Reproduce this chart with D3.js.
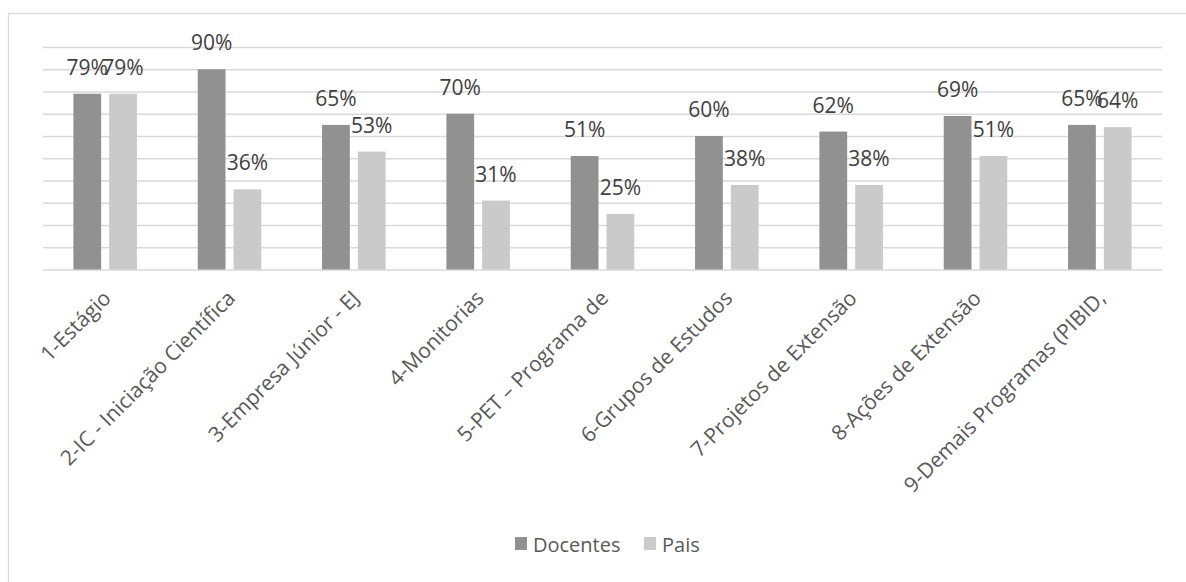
<!DOCTYPE html>
<html>
<head>
<meta charset="utf-8">
<script src="https://cdn.jsdelivr.net/npm/d3@7"></script>
<style>
  html, body { margin: 0; padding: 0; background: #ffffff; }
  svg { display: block; font-family: "Open Sans", "Noto Sans", sans-serif; }
</style>
</head>
<body>
<svg id="chart" width="1186" height="582"></svg>
<script>
const categories = [
  "1-Estágio",
  "2-IC - Iniciação Científica",
  "3-Empresa Júnior - EJ",
  "4-Monitorias",
  "5-PET – Programa de",
  "6-Grupos de Estudos",
  "7-Projetos de Extensão",
  "8-Ações de Extensão",
  "9-Demais Programas (PIBID,"
];
const seriesNames = ["Docentes", "Pais"];
const docentes = [79, 90, 65, 70, 51, 60, 62, 69, 65];
const pais = [79, 36, 53, 31, 25, 38, 38, 51, 64];
const gridTicks = [0, 10, 20, 30, 40, 50, 60, 70, 80, 90, 100];
const colors = ["#919191", "#cacaca"];

const seriesValues = [docentes, pais];
const svg = d3.select("#chart");

// outer chart border
svg.append("rect")
  .attr("x", 8.5).attr("y", 13.5)
  .attr("width", 1200).attr("height", 600)
  .attr("fill", "none").attr("stroke", "#d9d9d9").attr("stroke-width", 1.3);

const plot = { left: 43, right: 1162, top: 47, bottom: 269.5 };

const y = d3.scaleLinear().domain([0, 100]).range([plot.bottom, plot.top]);
const x0 = d3.scaleBand().domain(categories)
  .range([plot.left, plot.right])
  .paddingInner(0.489).paddingOuter(0.489 / 2);
const x1 = d3.scaleBand().domain(seriesNames)
  .range([0, x0.bandwidth()]).paddingInner(0.224);

// gridlines
const yAxis = d3.axisLeft(y).tickValues(gridTicks)
  .tickSize(-(plot.right - plot.left)).tickFormat("");
const gGrid = svg.append("g").attr("transform", `translate(${plot.left},0)`).call(yAxis);
gGrid.select(".domain").remove();
gGrid.selectAll(".tick line").attr("stroke", "#d9d9d9").attr("stroke-width", 1.4);

// bars
const groups = svg.append("g").selectAll("g")
  .data(categories).join("g")
  .attr("transform", d => `translate(${x0(d)},0)`);

groups.selectAll("rect")
  .data((d, i) => seriesNames.map((s, k) => ({ s, k, v: seriesValues[k][i] })))
  .join("rect")
  .attr("x", d => x1(d.s))
  .attr("y", d => y(d.v))
  .attr("width", x1.bandwidth())
  .attr("height", d => y(0) - y(d.v))
  .attr("fill", d => colors[d.k]);

// data labels
groups.selectAll("text")
  .data((d, i) => seriesNames.map((s, k) => ({ s, k, v: seriesValues[k][i] })))
  .join("text")
  .attr("x", d => x1(d.s) + x1.bandwidth() / 2)
  .attr("y", d => y(d.v) - 19)
  .attr("text-anchor", "middle")
  .attr("font-size", 21)
  .attr("fill", "#404040")
  .text(d => d.v + "%");

// x-axis labels
const xAxis = d3.axisBottom(x0).tickSize(0).tickPadding(0);
const gx = svg.append("g").attr("transform", `translate(0,${plot.bottom})`).call(xAxis);
gx.select(".domain").remove();
gx.selectAll(".tick text")
  .attr("font-family", "\"Open Sans\", \"Noto Sans\", sans-serif")
  .attr("font-size", 21)
  .attr("fill", "#595959")
  .attr("text-anchor", "end")
  .attr("dy", 0)
  .attr("transform", "translate(7,30) rotate(-45)");

// legend
const legend = svg.append("g");
const legendX = [515, 644];
seriesNames.forEach((s, k) => {
  const g = legend.append("g").attr("transform", `translate(${legendX[k]},537)`);
  g.append("rect").attr("width", 12).attr("height", 13).attr("fill", colors[k]);
  g.append("text").attr("x", 18).attr("y", 14.5)
    .attr("font-size", 20).attr("fill", "#595959").text(s);
});
</script>
</body>
</html>
